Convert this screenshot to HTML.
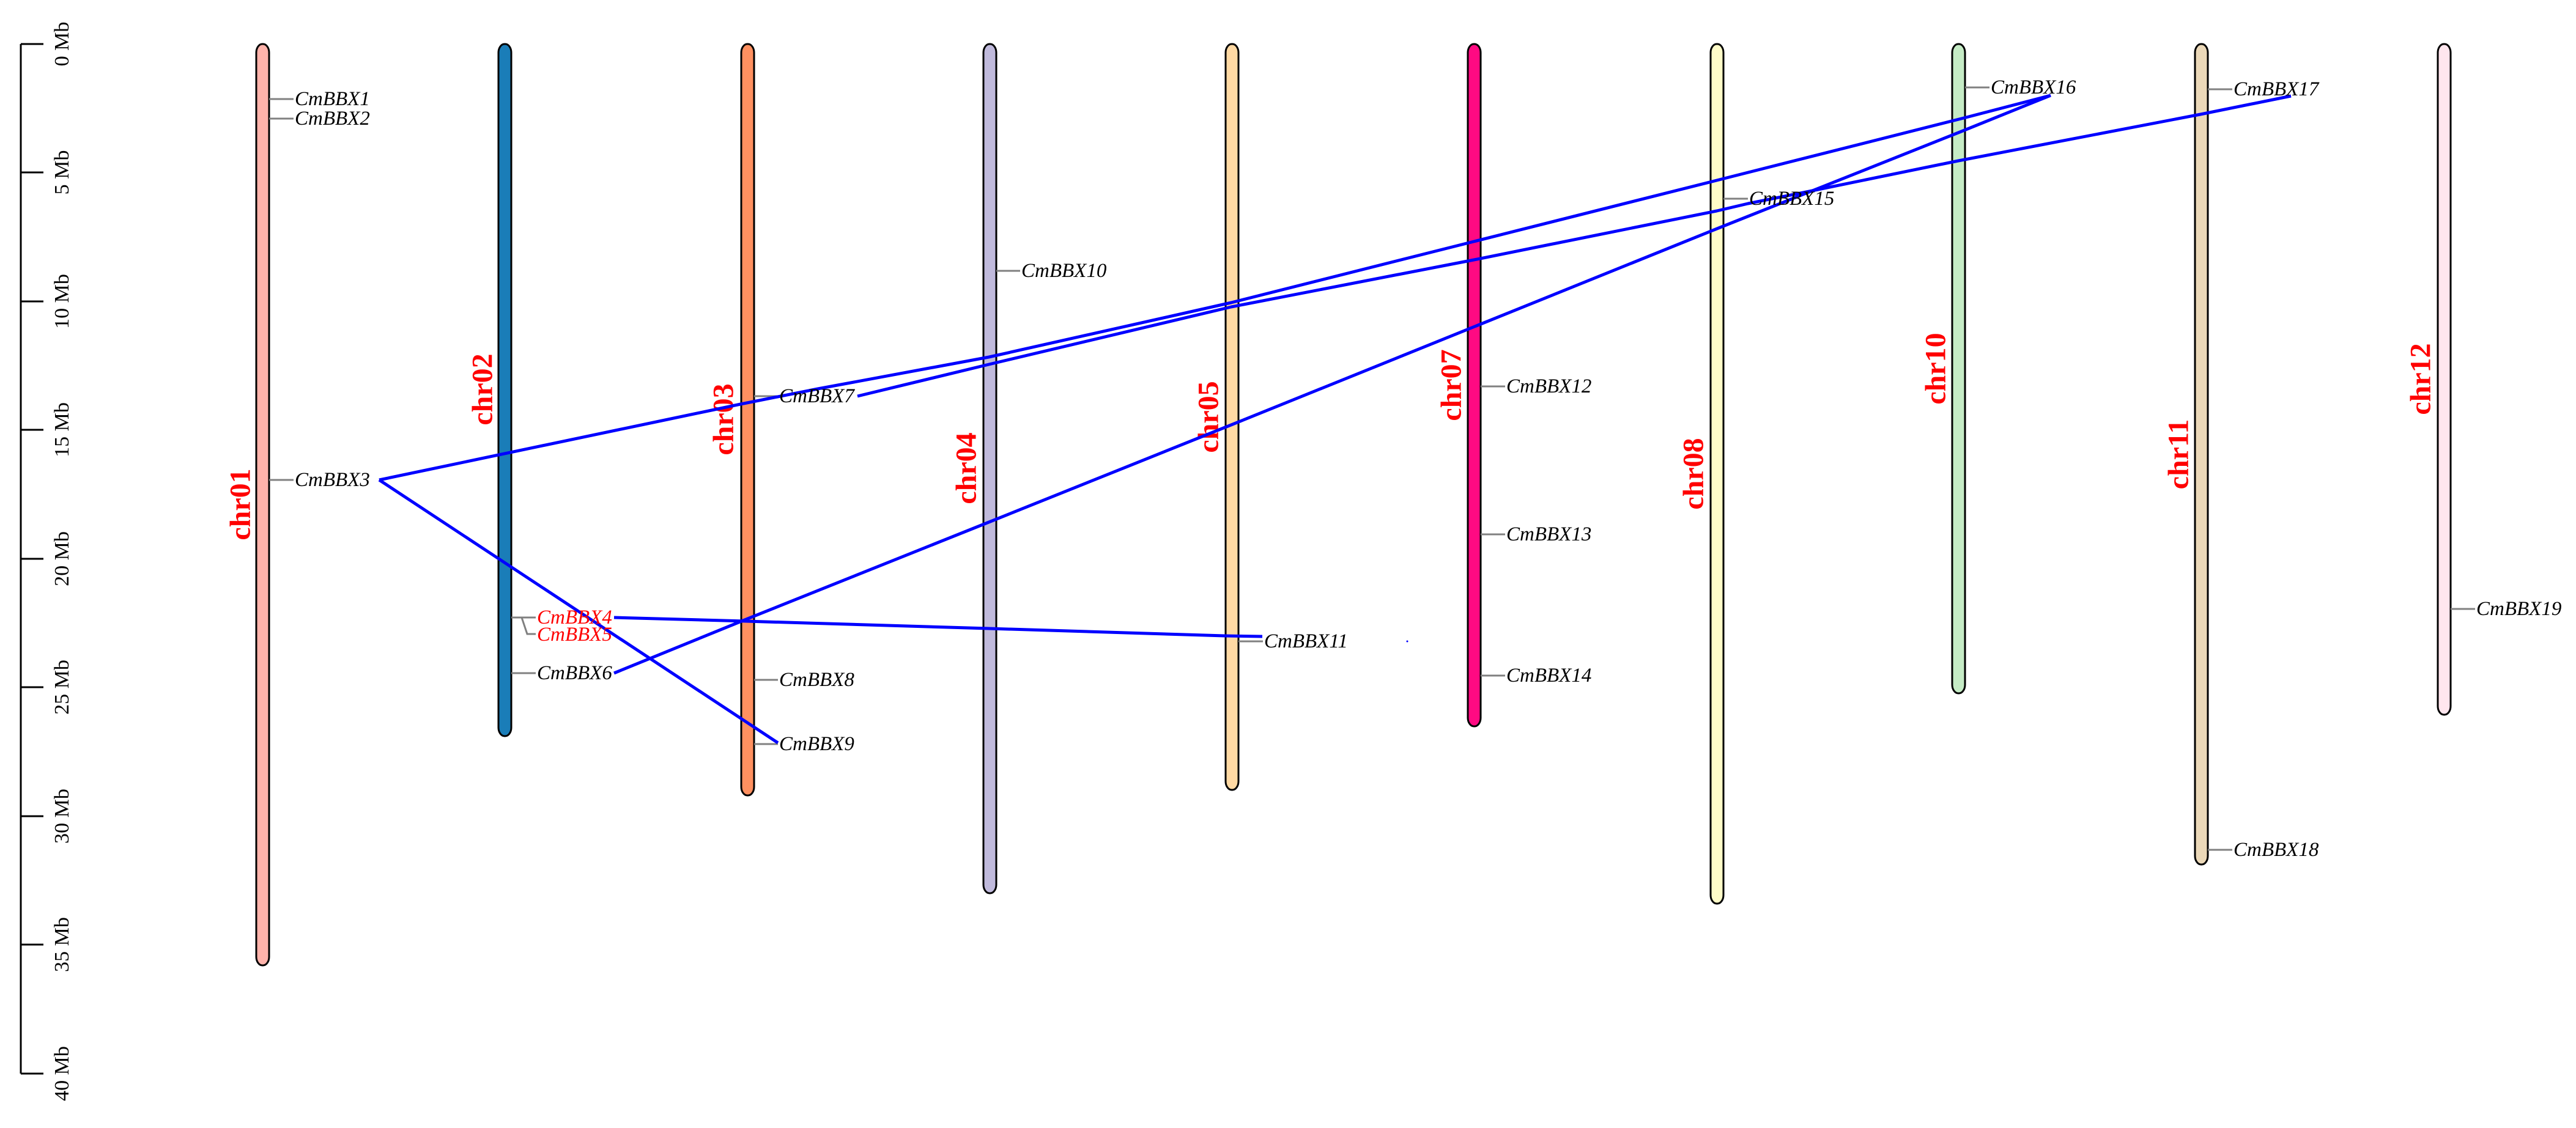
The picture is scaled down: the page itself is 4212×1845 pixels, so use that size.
<!DOCTYPE html>
<html><head><meta charset="utf-8"><style>
html,body{margin:0;padding:0;background:#fff;}
svg{display:block;}
.g{font-family:"Liberation Serif",serif;font-style:italic;font-size:33px;fill:#000;}
.c{font-family:"Liberation Serif",serif;font-weight:bold;font-size:48px;fill:#ff0000;}
.a{font-family:"Liberation Serif",serif;font-size:34px;fill:#000;}
.l{stroke:#808080;stroke-width:3;fill:none;}
.b{stroke:#0000ff;stroke-width:5;fill:none;stroke-linejoin:round;}
.chr{stroke:#000;stroke-width:3;}
</style></head><body>
<svg width="4212" height="1845" viewBox="0 0 4212 1845" xmlns="http://www.w3.org/2000/svg">
<g stroke="#000" stroke-width="3" fill="none">
<line x1="34" y1="72" x2="34" y2="1756"/>
<line x1="34" y1="72" x2="71" y2="72"/>
<line x1="34" y1="282" x2="71" y2="282"/>
<line x1="34" y1="493" x2="71" y2="493"/>
<line x1="34" y1="703" x2="71" y2="703"/>
<line x1="34" y1="914" x2="71" y2="914"/>
<line x1="34" y1="1124" x2="71" y2="1124"/>
<line x1="34" y1="1335" x2="71" y2="1335"/>
<line x1="34" y1="1545" x2="71" y2="1545"/>
<line x1="34" y1="1756" x2="71" y2="1756"/>
</g>
<g class="a" text-anchor="middle">
<text transform="translate(112,72) rotate(-90)">0 Mb</text>
<text transform="translate(112,282) rotate(-90)">5 Mb</text>
<text transform="translate(112,493) rotate(-90)">10 Mb</text>
<text transform="translate(112,703) rotate(-90)">15 Mb</text>
<text transform="translate(112,914) rotate(-90)">20 Mb</text>
<text transform="translate(112,1124) rotate(-90)">25 Mb</text>
<text transform="translate(112,1335) rotate(-90)">30 Mb</text>
<text transform="translate(112,1545) rotate(-90)">35 Mb</text>
<text transform="translate(112,1756) rotate(-90)">40 Mb</text>
</g>

<rect class="chr" x="419" y="72" width="21" height="1507" rx="10" ry="14" fill="#FFB3AB"/>
<rect class="chr" x="815" y="72" width="21" height="1132" rx="10" ry="14" fill="#1A7DB8"/>
<rect class="chr" x="1212" y="72" width="21" height="1229" rx="10" ry="14" fill="#FF9060"/>
<rect class="chr" x="1608" y="72" width="21" height="1389" rx="10" ry="14" fill="#C0BADC"/>
<rect class="chr" x="2004" y="72" width="21" height="1220" rx="10" ry="14" fill="#FFD9A3"/>
<rect class="chr" x="2400" y="72" width="21" height="1116" rx="10" ry="14" fill="#FF0A82"/>
<rect class="chr" x="2797" y="72" width="21" height="1406" rx="10" ry="14" fill="#FFFCC8"/>
<rect class="chr" x="3192" y="72" width="21" height="1062" rx="10" ry="14" fill="#C5EBC5"/>
<rect class="chr" x="3589" y="72" width="21" height="1342" rx="10" ry="14" fill="#EBD8B8"/>
<rect class="chr" x="3986" y="72" width="21" height="1097" rx="10" ry="14" fill="#FFE6EE"/>

<g class="c" text-anchor="middle" dominant-baseline="central">
<text transform="translate(393,825) rotate(-90)">chr01</text>
<text transform="translate(789,637) rotate(-90)">chr02</text>
<text transform="translate(1183,686) rotate(-90)">chr03</text>
<text transform="translate(1580,766) rotate(-90)">chr04</text>
<text transform="translate(1976,682) rotate(-90)">chr05</text>
<text transform="translate(2373,630) rotate(-90)">chr07</text>
<text transform="translate(2769,775) rotate(-90)">chr08</text>
<text transform="translate(3165,603) rotate(-90)">chr10</text>
<text transform="translate(3562,743) rotate(-90)">chr11</text>
<text transform="translate(3958,620) rotate(-90)">chr12</text>
</g>

<g class="l">
<path d="M440 162 H480"/><path d="M440 194 H480"/><path d="M440 785 H480"/>
<path d="M836 1010 H876"/><path d="M836 1010 H853 L862 1037 H876"/><path d="M836 1101 H876"/>
<path d="M1233 648 H1272"/><path d="M1233 1112 H1272"/><path d="M1233 1217 H1272"/>
<path d="M1629 443 H1668"/>
<path d="M2025 1049 H2065"/>
<path d="M2421 632 H2461"/><path d="M2421 874 H2461"/><path d="M2421 1105 H2461"/>
<path d="M2818 325 H2858"/>
<path d="M3213 143 H3253"/>
<path d="M3610 146 H3650"/><path d="M3610 1390 H3650"/>
<path d="M4007 996 H4047"/>
</g>

<g class="b">
<polyline points="620,785 1211,661 1337,636 1617,584 2013,495 2410,395 2807,295 3211,193 3353,156"/>
<polyline points="1402,648 1617,596 2013,502 2410,425 2807,345 2858,333 2963,312 3202,263 3598,187 3746,157"/>
<polyline points="1004,1101 1210,1017 1617,854 2013,695 2805,375 3202,217 3353,156"/>
<polyline points="620,785 1272,1215"/>
<polyline points="1004,1010 1219,1016 1617,1028 2003,1040 2064,1041"/>
</g>
<circle cx="2301" cy="1049" r="1.5" fill="#0000ff"/>

<g class="g" dominant-baseline="central">
<text x="482" y="162">CmBBX1</text>
<text x="482" y="194">CmBBX2</text>
<text x="482" y="785">CmBBX3</text>
<text x="878" y="1010" style="fill:#ff0000">CmBBX4</text>
<text x="878" y="1038" style="fill:#ff0000">CmBBX5</text>
<text x="878" y="1101">CmBBX6</text>
<text x="1274" y="648">CmBBX7</text>
<text x="1274" y="1112">CmBBX8</text>
<text x="1274" y="1217">CmBBX9</text>
<text x="1670" y="443">CmBBX10</text>
<text x="2067" y="1049">CmBBX11</text>
<text x="2463" y="632">CmBBX12</text>
<text x="2463" y="874">CmBBX13</text>
<text x="2463" y="1105">CmBBX14</text>
<text x="2860" y="325">CmBBX15</text>
<text x="3255" y="143">CmBBX16</text>
<text x="3652" y="146">CmBBX17</text>
<text x="3652" y="1390">CmBBX18</text>
<text x="4049" y="996">CmBBX19</text>
</g>
</svg>
</body></html>
